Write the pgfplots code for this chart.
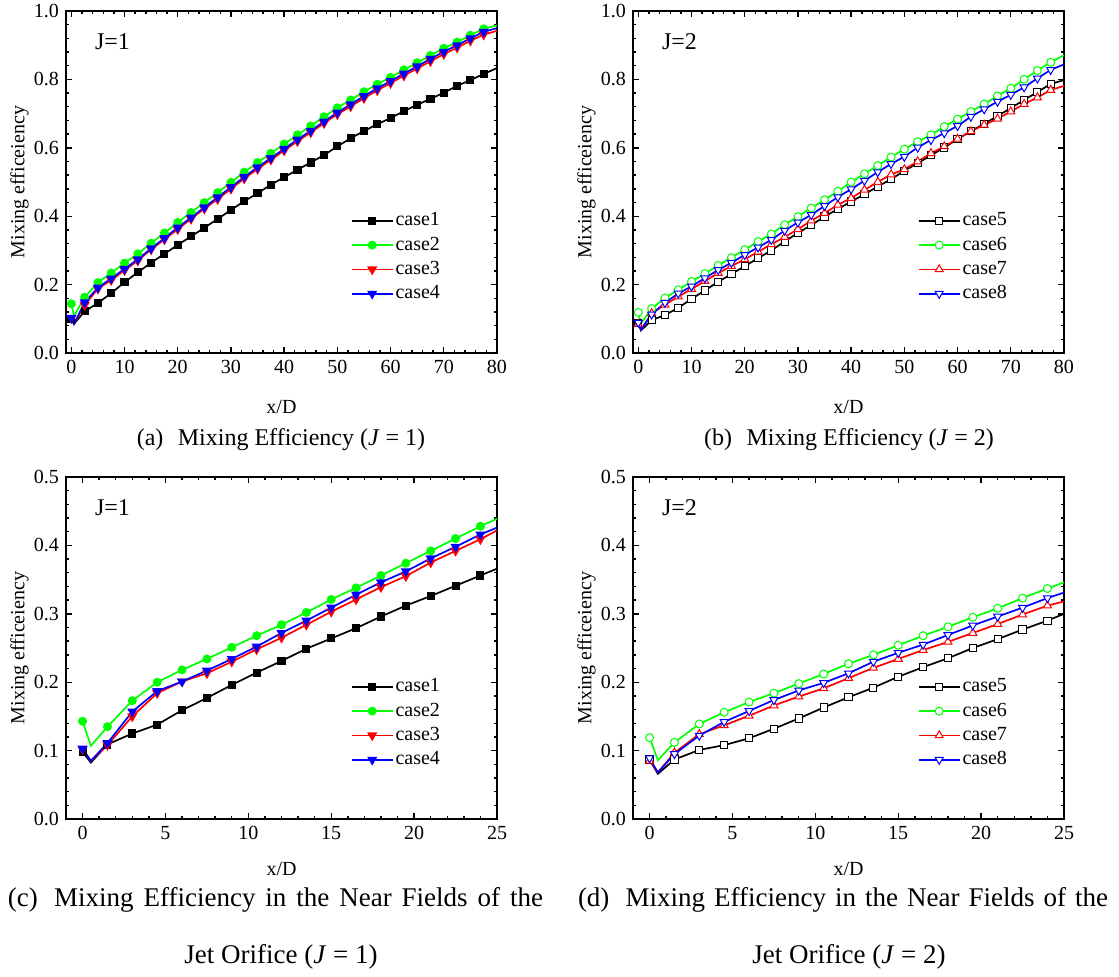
\documentclass[border=0pt]{standalone}
\usepackage{fontspec}
\setmainfont{Liberation Serif}
\usepackage{pgfplots}
\pgfplotsset{compat=1.18}
\usepackage{pgfplotstable}

% J=1, full range
\pgfplotstableread{
x    c1     c2     c3     c4
0    0.099  0.144  0.102  0.103
0.5  0.085  0.108  0.085  0.085
2.5  0.122  0.163  0.140  0.148
5    0.146  0.206  0.188  0.191
7.5  0.175  0.234  0.213  0.218
10   0.207  0.263  0.242  0.246
12.5 0.236  0.290  0.270  0.274
15   0.264  0.321  0.303  0.306
17.5 0.290  0.351  0.332  0.336
20   0.316  0.382  0.362  0.367
22.5 0.341  0.411  0.392  0.396
25   0.366  0.440  0.422  0.426
27.5 0.392  0.469  0.450  0.455
30   0.418  0.499  0.480  0.485
32.5 0.444  0.529  0.510  0.515
35   0.467  0.557  0.538  0.543
37.5 0.492  0.584  0.565  0.570
40   0.514  0.611  0.592  0.597
42.5 0.536  0.638  0.619  0.624
45   0.557  0.664  0.645  0.650
47.5 0.579  0.691  0.672  0.677
50   0.604  0.717  0.698  0.703
52.5 0.628  0.740  0.721  0.727
55   0.649  0.764  0.745  0.751
57.5 0.669  0.786  0.768  0.774
60   0.687  0.806  0.789  0.795
62.5 0.707  0.828  0.811  0.817
65   0.726  0.849  0.832  0.838
67.5 0.743  0.870  0.853  0.860
70   0.761  0.891  0.874  0.881
72.5 0.781  0.909  0.893  0.900
75   0.798  0.929  0.913  0.920
77.5 0.816  0.948  0.931  0.939
80   0.833  0.958  0.942  0.950
}\tabA

% J=2, full range
\pgfplotstableread{
x    c5     c6     c7     c8
0    0.087  0.119  0.085  0.089
0.5  0.066  0.086  0.068  0.068
2.5  0.096  0.130  0.116  0.113
5    0.111  0.161  0.141  0.147
7.5  0.132  0.185  0.165  0.174
10   0.158  0.209  0.187  0.195
12.5 0.183  0.232  0.210  0.219
15   0.208  0.256  0.234  0.243
17.5 0.231  0.279  0.254  0.264
20   0.254  0.302  0.274  0.287
22.5 0.277  0.326  0.296  0.309
25   0.300  0.348  0.318  0.331
27.5 0.326  0.375  0.339  0.358
30   0.351  0.399  0.362  0.382
32.5 0.374  0.424  0.387  0.404
35   0.399  0.448  0.409  0.430
37.5 0.421  0.473  0.433  0.456
40   0.443  0.500  0.453  0.479
42.5 0.464  0.524  0.477  0.504
45   0.487  0.548  0.500  0.529
47.5 0.508  0.573  0.522  0.553
50   0.533  0.596  0.537  0.574
52.5 0.555  0.618  0.560  0.601
55   0.578  0.638  0.584  0.623
57.5 0.601  0.662  0.604  0.643
60   0.625  0.684  0.626  0.664
62.5 0.649  0.706  0.648  0.691
65   0.670  0.728  0.667  0.713
67.5 0.693  0.752  0.685  0.735
70   0.716  0.774  0.706  0.755
72.5 0.740  0.800  0.728  0.777
75   0.763  0.826  0.747  0.803
77.5 0.787  0.850  0.769  0.828
80   0.798  0.871  0.781  0.844
}\tabB

% J=1, near field
\pgfplotstableread{
x    c1     c2     c3     c4
0    0.098  0.143  0.102  0.103
0.5  0.0825 0.107  0.085  0.085
1.5  0.109  0.135  0.108  0.111
3    0.125  0.173  0.150  0.157
4.5  0.138  0.200  0.184  0.187
6    0.159  0.218  0.201  0.201
7.5  0.177  0.234  0.213  0.217
9    0.196  0.251  0.230  0.234
10.5 0.214  0.268  0.248  0.252
12   0.231  0.284  0.265  0.272
13.5 0.249  0.302  0.284  0.290
15   0.264  0.321  0.303  0.309
16.5 0.279  0.338  0.321  0.328
18   0.296  0.356  0.339  0.346
19.5 0.312  0.374  0.355  0.362
21   0.326  0.392  0.375  0.381
22.5 0.341  0.410  0.392  0.398
24   0.356  0.428  0.409  0.416
25   0.366  0.439  0.422  0.426
}\tabC

% J=2, near field
\pgfplotstableread{
x    c5     c6     c7     c8
0    0.087  0.119  0.085  0.089
0.5  0.066  0.086  0.068  0.068
1.5  0.087  0.112  0.097  0.095
3    0.101  0.139  0.124  0.122
4.5  0.108  0.156  0.137  0.142
6    0.118  0.171  0.151  0.158
7.5  0.132  0.184  0.166  0.174
9    0.147  0.198  0.179  0.188
10.5 0.163  0.212  0.191  0.199
12   0.178  0.227  0.206  0.213
13.5 0.192  0.240  0.221  0.230
15   0.208  0.254  0.234  0.243
16.5 0.222  0.268  0.247  0.255
18   0.235  0.281  0.259  0.269
19.5 0.250  0.295  0.272  0.283
21   0.263  0.308  0.285  0.296
22.5 0.277  0.323  0.299  0.309
24   0.290  0.337  0.312  0.323
25   0.300  0.346  0.318  0.331
}\tabD

\newcommand{\lblfont}{\fontsize{10}{12}\selectfont}
\newcommand{\capfont}{\fontsize{12}{14}\selectfont}
\newcommand{\capfontb}{\fontsize{13.5}{15}\selectfont}

\pgfplotsset{
  panel/.style={
    scale only axis, width=215.5pt, height=171pt, anchor=north west,
    xmin=-1,
    axis line style={line width=0.9pt},
    major tick length=3pt, minor tick length=1.7pt,
    every tick/.style={black, line width=0.7pt},
    minor x tick num=4, minor y tick num=4,
    tick label style={font=\lblfont},
    label style={font=\lblfont},
    /pgf/number format/assume math mode=true,
    yticklabel style={/pgf/number format/.cd, fixed, fixed zerofill, precision=1},
    ylabel={Mixing efficeiency}, xlabel={x/D},
    y label style={at={(axis description cs:-0.108,0.5)}, anchor=center},
    legend style={draw=none, fill=none, font=\lblfont, anchor=west, at={(0.66,0.28)},
      inner sep=0pt, row sep=1.15pt,
      nodes={inner sep=1pt, text height=7pt, text depth=2pt}},
    legend cell align=left,
    legend image code/.code={\draw[mark indices={2}] plot coordinates {(0pt,0pt)(10.25pt,0pt)(20.5pt,0pt)};},
    every axis plot/.append style={line width=0.85pt},
  },
  full/.style={panel, xmax=80, xtick={0,10,...,80}, ymin=0, ymax=1, ytick={0,0.2,...,1},
    x label style={at={(axis description cs:0.5,-0.158)}, anchor=center},
    every axis plot/.append style={mark indices={1,3,4,...,33}}},
  near/.style={panel, xmax=25, xtick={0,5,...,25}, ymin=0, ymax=0.5, ytick={0,0.1,...,0.5},
    x label style={at={(axis description cs:0.5,-0.146)}, anchor=center},
    every axis plot/.append style={mark indices={1,3,4,...,18}}},
  s1/.style={black, mark=square*, mark size=1.6pt},
  s2/.style={green, mark=*, mark size=1.8pt},
  s3/.style={red, mark=triangle*, mark size=2.1pt, mark options={rotate=180}},
  s4/.style={blue, mark=triangle*, mark size=2.1pt, mark options={rotate=180}},
  s5/.style={black, mark=square*, mark size=1.8pt, mark options={fill=white, line width=0.5pt}},
  s6/.style={green, mark=*, mark size=2pt, mark options={fill=white, line width=0.5pt}},
  s7/.style={red, mark=triangle*, mark size=2.3pt, mark options={fill=white, line width=0.5pt}},
  s8/.style={blue, mark=triangle*, mark size=2.3pt, mark options={fill=white, line width=0.5pt, rotate=180}},
}

\begin{document}
\begin{tikzpicture}
\useasboundingbox (0,0) rectangle (559.5pt,-488pt);

\begin{axis}[full, at={(33pt,-5.5pt)}]
  \addplot[s1] table[x=x, y=c1] {\tabA};
  \addplot[s2] table[x=x, y=c2] {\tabA};
  \addplot[s3] table[x=x, y=c3] {\tabA};
  \addplot[s4] table[x=x, y=c4] {\tabA};
  \legend{case1, case2, case3, case4}
  \node[anchor=west, font=\capfont] at (rel axis cs:0.051,0.909) {J=1};
\end{axis}

\begin{axis}[full, at={(316.5pt,-5.5pt)}]
  \addplot[s5] table[x=x, y=c5] {\tabB};
  \addplot[s6] table[x=x, y=c6] {\tabB};
  \addplot[s7] table[x=x, y=c7] {\tabB};
  \addplot[s8] table[x=x, y=c8] {\tabB};
  \legend{case5, case6, case7, case8}
  \node[anchor=west, font=\capfont] at (rel axis cs:0.051,0.909) {J=2};
\end{axis}

\begin{axis}[near, at={(33pt,-238.5pt)}]
  \addplot[s1] table[x=x, y=c1] {\tabC};
  \addplot[s2] table[x=x, y=c2] {\tabC};
  \addplot[s3] table[x=x, y=c3] {\tabC};
  \addplot[s4] table[x=x, y=c4] {\tabC};
  \legend{case1, case2, case3, case4}
  \node[anchor=west, font=\capfont] at (rel axis cs:0.051,0.909) {J=1};
\end{axis}

\begin{axis}[near, at={(316.5pt,-238.5pt)}]
  \addplot[s5] table[x=x, y=c5] {\tabD};
  \addplot[s6] table[x=x, y=c6] {\tabD};
  \addplot[s7] table[x=x, y=c7] {\tabD};
  \addplot[s8] table[x=x, y=c8] {\tabD};
  \legend{case5, case6, case7, case8}
  \node[anchor=west, font=\capfont] at (rel axis cs:0.051,0.909) {J=2};
\end{axis}

\node[font=\capfont] at (140.5pt,-220pt) {(a)\hspace{0.6em}Mixing Efficiency (\textit{J} = 1)};
\node[font=\capfont] at (424.5pt,-220pt) {(b)\hspace{0.6em}Mixing Efficiency (\textit{J} = 2)};
\node[font=\capfontb, inner sep=0pt] at (137.75pt,-450pt) {\makebox[267.5pt][s]{(c)\hspace{0.6em}Mixing Efficiency in the Near Fields of the}};
\node[font=\capfontb] at (140.5pt,-478.5pt) {Jet Orifice (\textit{J} = 1)};
\node[font=\capfontb, inner sep=0pt] at (421.5pt,-450pt) {\makebox[265pt][s]{(d)\hspace{0.6em}Mixing Efficiency in the Near Fields of the}};
\node[font=\capfontb] at (424.5pt,-478.5pt) {Jet Orifice (\textit{J} = 2)};
\end{tikzpicture}
\end{document}
